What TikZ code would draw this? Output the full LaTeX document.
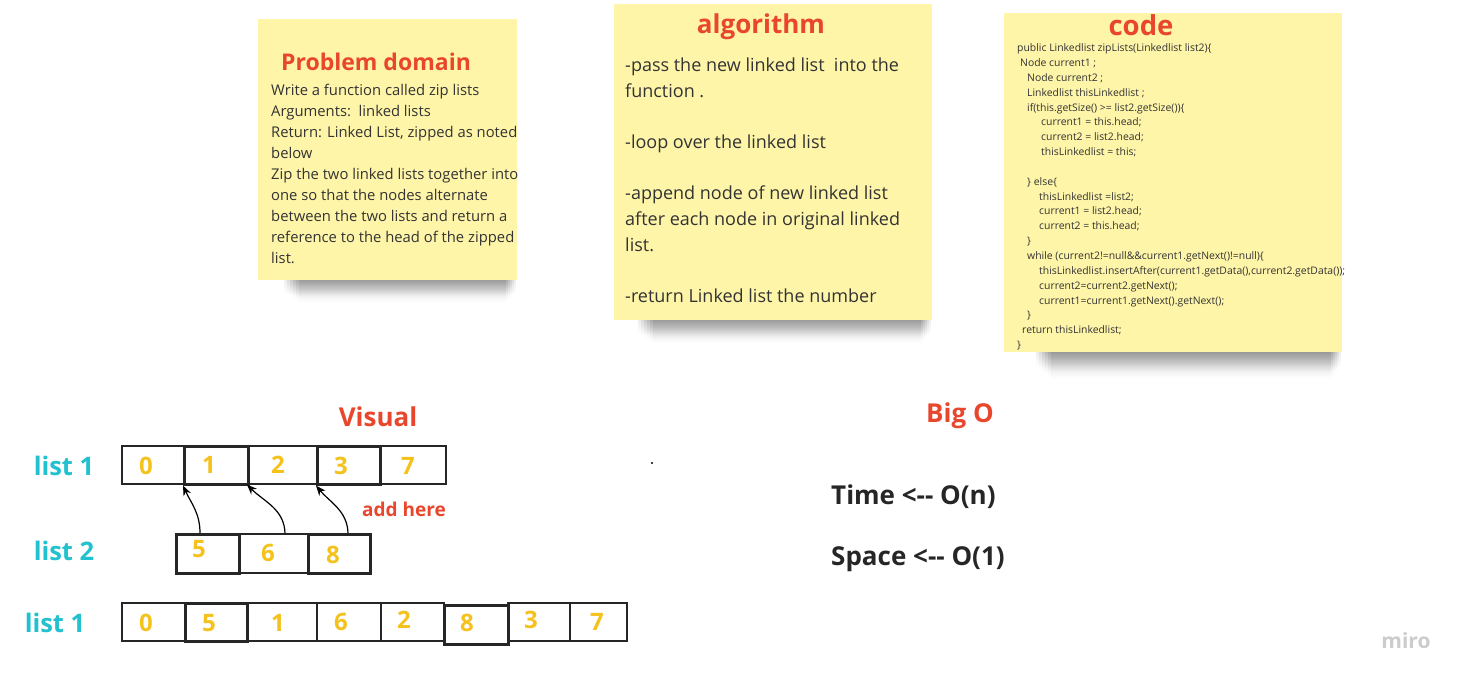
\documentclass[tikz,border=0pt]{standalone}
\usepackage{fontspec}
\setmainfont{Open Sans}
\usetikzlibrary{arrows.meta,positioning,fadings}

\definecolor{stickyyellow}{HTML}{FEF5A9}
\definecolor{headred}{HTML}{E8472D}
\definecolor{listcyan}{HTML}{21C1D0}
\definecolor{numyellow}{HTML}{F5C21B}
\definecolor{inkgray}{HTML}{333333}

\newcommand{\pxfont}[2]{\fontsize{#1}{#2}\selectfont}

\tikzset{
  headline/.style={text=headred, font=\pxfont{26}{30}\bfseries, inner sep=0pt},
  notetext/.style={text=inkgray, align=left, anchor=north west, inner sep=0pt},
  listname/.style={text=listcyan, font=\pxfont{25.5}{30}\bfseries, inner sep=0pt},
  cell/.style={draw=black!85, line width=1.6pt, anchor=north west, inner sep=0pt, minimum height=38pt},
  fatcell/.style={cell, line width=2.6pt},
  digit/.style={text=numyellow, font=\pxfont{24}{28}\bfseries, inner sep=0pt},
  bigo/.style={text=black!85, font=\pxfont{26}{30}\bfseries, anchor=base west, inner sep=0pt},
  addarrow/.style={-{Stealth[length=10pt,width=8pt]}, line width=1.2pt},
  shadowfill/.style={black, opacity=.11, path fading=south}
}

\begin{document}
\begin{tikzpicture}[x=1pt,y=-1pt]
    \useasboundingbox (0,0) rectangle (1463,683);
    \fill[white] (0,0) rectangle (1463,683);

    % sticky notes
    \foreach \k in {0,...,5} {
      \fill[shadowfill] (284+\k*3,272) rectangle (516-\k*2,293+\k*2);
      \fill[shadowfill] (638+\k*3,312) rectangle (931-\k*2,334+\k*2);
      \fill[shadowfill] (1036+\k*3,344) rectangle (1341-\k*2,367+\k*2.5);
    }
    \fill[stickyyellow] (258,19) rectangle (517,280);
    \fill[stickyyellow] (614,4) rectangle (932,320);
    \fill[stickyyellow] (1004,13) rectangle (1342,352);

    \node[headline, font=\pxfont{23}{27}\bfseries] (pdtitle) at (376,62) {Problem domain};
    \node[notetext, font=\pxfont{14.8}{21.1}] (pdtext) at (271,83.5) {Write a function called zip lists\\
      Arguments:\ \ linked lists\\
      Return: Linked List, zipped as noted\\
      below\\
      Zip the two linked lists together into\\
      one so that the nodes alternate\\
      between the two lists and return a\\
      reference to the head of the zipped\\
      list.};

    \node[headline, anchor=base] (algtitle) at (761,33) {algorithm};
    \node[notetext, font=\pxfont{18}{25.7}] (algtext) at (625,57.5) {-pass the new linked list\ \ into the\\
      function .\\[25.7pt]
      -loop over the linked list\\[25.7pt]
      -append node of new linked list\\
      after each node in original linked\\
      list.\\[25.7pt]
      -return Linked list the number};

    \node[headline, font=\pxfont{27.5}{31}\bfseries] (codetitle) at (1141,25) {code};
    \node[notetext, font=\pxfont{10.4}{14.85}] (codetext) at (1017,43.5) {public Linkedlist zipLists(Linkedlist list2)\{\\
      \hspace*{3pt}Node current1 ;\\
      \hspace*{10pt}Node current2 ;\\
      \hspace*{10pt}Linkedlist thisLinkedlist ;\\
      \hspace*{10pt}if(this.getSize() >= list2.getSize())\{\\
      \hspace*{24pt}current1 = this.head;\\
      \hspace*{24pt}current2 = list2.head;\\
      \hspace*{24pt}thisLinkedlist = this;\\[14.85pt]
      \hspace*{10pt}\} else\{\\
      \hspace*{22pt}thisLinkedlist =list2;\\
      \hspace*{22pt}current1 = list2.head;\\
      \hspace*{22pt}current2 = this.head;\\
      \hspace*{10pt}\}\\
      \hspace*{10pt}while (current2!=null\&\&current1.getNext()!=null)\{\\
      \hspace*{22pt}thisLinkedlist.insertAfter(current1.getData(),current2.getData());\\
      \hspace*{22pt}current2=current2.getNext();\\
      \hspace*{22pt}current1=current1.getNext().getNext();\\
      \hspace*{10pt}\}\\
      \hspace*{5pt}return thisLinkedlist;\\
      \}};

    % visual
    \node[headline] (vistitle) at (378,417) {Visual};
    \node[listname] (name1) at (64,466) {list 1};
    \node[listname] (name2) at (64,551) {list 2};
    \node[listname] (name3) at (55,623) {list 1};

    \foreach \nm/\x/\w in {a0/121/62, a2/247/69, a4/379/66}
      \node[cell, minimum width=\w pt] (\nm) at (\x,445) {};
    \foreach \nm/\x/\w in {a1/183/64, a3/316/63}
      \node[fatcell, minimum width=\w pt] (\nm) at (\x,445) {};
    \foreach \nm/\x/\w in {b1/238/69}
      \node[cell, minimum width=\w pt, minimum height=39pt] (\nm) at (\x,533) {};
    \foreach \nm/\x/\w in {b0/175/63, b2/307/62}
      \node[fatcell, minimum width=\w pt, minimum height=39pt] (\nm) at (\x,533) {};
    \foreach \nm/\x/\w in {c0/121/63, c2/246/70, c3/316/64, c4/380/63, c6/507/62, c7/569/57}
      \node[cell, minimum width=\w pt] (\nm) at (\x,602) {};
    \node[fatcell, minimum width=62pt] (c1) at (184,602) {};
    \node[fatcell, minimum width=64pt, minimum height=39pt] (c5) at (443,604) {};

    \foreach \nm/\x/\y/\d in {da0/146/466/0, da1/209/465/1, da2/278/465/2, da3/341/466/3, da4/408/466/7,
      db0/199/549/5, db1/268/553/6, db2/333/555/8,
      dc0/146/623/0, dc1/209/623/5, dc2/278/623/1, dc3/341/622/6, dc4/404/620/2, dc5/467/623/8, dc6/531/620/3, dc7/597/622/7}
      \node[digit] (\nm) at (\x,\y) {\d};

    \draw[addarrow] ([xshift=25pt]b0.north west) to[out=90,in=-65] (a1.south west);
    \draw[addarrow] ([xshift=47pt]b1.north west) to[out=92,in=-45] (a2.south west);
    \draw[addarrow] ([xshift=41pt]b2.north west) to[out=92,in=-50] (a3.south west);
    \node[text=headred, font=\pxfont{19}{23}\bfseries, inner sep=0pt] (addhere) at (404,509) {add here};

    \fill (652,463) circle (1.2);

    % big o
    \node[headline, anchor=base] (bigotitle) at (960,422) {Big O};
    \node[bigo] (timeline) at (831,504) {Time <-{}- O(n)};
    \node[bigo] (spaceline) at (831,565) {Space <-{}- O(1)};

    \node[text=black!20, font=\pxfont{21}{24}\bfseries, inner sep=0pt] (miro) at (1406,641) {miro};
\end{tikzpicture}
\end{document}
